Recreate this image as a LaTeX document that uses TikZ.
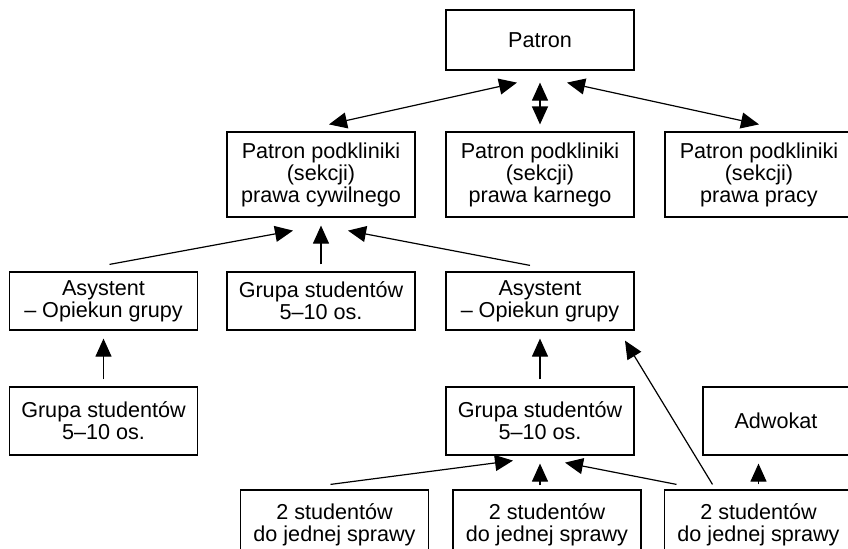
\documentclass[tikz,border=0pt]{standalone}
\usepackage{fontspec}
\setmainfont{Liberation Sans}
\usetikzlibrary{arrows.meta}
\begin{document}
\begin{tikzpicture}
	[x=0.5pt, y=-0.5pt,
	line width=0.6pt,
	box/.style = {draw, align=center, inner sep=0pt, minimum width=94pt, font=\fontsize{10.8}{11}\selectfont},
	tall/.style = {box, minimum height=42.5pt},
	flat/.style = {box, minimum height=29pt},
	low/.style = {box, minimum height=34pt},
	arr/.style = {-{Triangle[length=9pt,width=8pt]}},
	both/.style = {{Triangle[length=9pt,width=8pt]}-{Triangle[length=9pt,width=8pt]}}]
\useasboundingbox (0,0) rectangle (848,548);
% top
\node[box, minimum height=30pt] (patron) at (540,40) {Patron};
\node[tall] (civil) at (321,174.5) {Patron podkliniki\\(sekcji)\\prawa cywilnego};
\node[tall] (karne) at (540,174.5) {Patron podkliniki\\(sekcji)\\prawa karnego};
\node[tall] (pracy) at (759,174.5) {Patron podkliniki\\(sekcji)\\prawa pracy};
% assistants and groups
\node[flat] (asys1) at (103.5,301) {Asystent\\-- Opiekun grupy};
\node[flat] (grupa1) at (321,301) {Grupa studentów\\5--10 os.};
\node[flat] (asys2) at (540,301) {Asystent\\-- Opiekun grupy};
\node[low] (grupa0) at (103.5,421) {Grupa studentów\\5--10 os.};
\node[low] (grupa2) at (540,421) {Grupa studentów\\5--10 os.};
\node[low, minimum width=73pt] (adwokat) at (776,421) {Adwokat};
% pairs of students
\node[low, minimum height=35pt] (stud1) at (334.5,525) {2 studentów\\do jednej sprawy};
\node[low, minimum height=35pt] (stud2) at (547,525) {2 studentów\\do jednej sprawy};
\node[low, minimum height=35pt] (stud3) at (758.5,525) {2 studentów\\do jednej sprawy};
\draw[both] ([xshift=-11.5pt,yshift=-6pt]patron.south) -- ([xshift=4pt,yshift=3.5pt]civil.north);
\draw[both] ([yshift=-6pt]patron.south) -- ([yshift=3.5pt]karne.north);
\draw[both] ([xshift=13.5pt,yshift=-6pt]patron.south) -- ([yshift=3.5pt]pracy.north);
\draw[arr] ([xshift=3pt,yshift=3.5pt]asys1.north) -- ([xshift=-14pt,yshift=-6.5pt]civil.south);
\draw[arr] ([yshift=3.5pt]grupa1.north) -- ([yshift=-4pt]civil.south);
\draw[arr] ([xshift=-5pt,yshift=3pt]asys2.north) -- ([xshift=13.5pt,yshift=-6.5pt]civil.south);
\draw[arr] ([yshift=3.5pt]grupa0.north) -- ([yshift=-4pt]asys1.south);
\draw[arr] ([yshift=3.5pt]grupa2.north) -- ([yshift=-4pt]asys2.south);
\draw[arr] ([xshift=-23pt,yshift=2.5pt]stud3.north) -- ([xshift=42.5pt,yshift=-5pt]asys2.south);
\draw[arr] ([xshift=-2pt,yshift=2.5pt]stud1.north) -- ([xshift=-13.5pt,yshift=-2.5pt]grupa2.south);
\draw[arr] ([yshift=2pt]stud2.north -| grupa2.south) -- ([yshift=-4pt]grupa2.south);
\draw[arr] ([xshift=-41pt,yshift=2.5pt]stud3.north) -- ([xshift=12.5pt,yshift=-3.5pt]grupa2.south);
\draw[arr] ([yshift=2.5pt]stud3.north) -- ([yshift=-4pt]stud3.north |- adwokat.south);
\end{tikzpicture}
\end{document}
